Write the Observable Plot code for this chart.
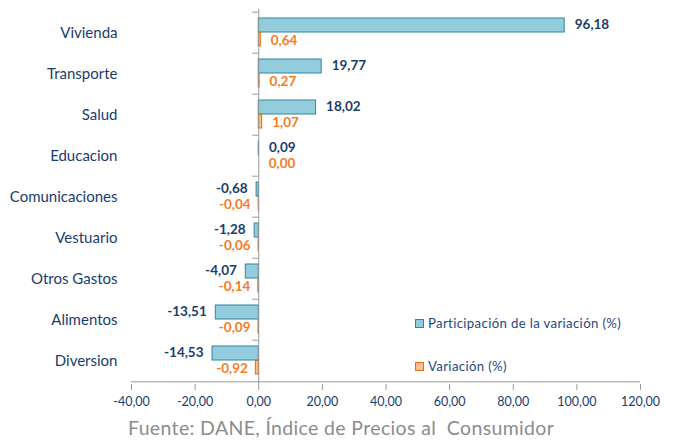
<!DOCTYPE html>
<html>
<head>
<meta charset="utf-8">
<script src="https://cdn.jsdelivr.net/npm/d3@7"></script>
<script src="https://cdn.jsdelivr.net/npm/@observablehq/plot@0.6"></script>
<style>
  body { margin: 0; background: #fff; }
  #wrap { position: relative; width: 673px; height: 440px; font-family: Lato, "Open Sans", sans-serif; }
  .leg { position: absolute; left: 415px; font-size: 13.2px; letter-spacing: 0.35px; color: #1f497d; display: flex; align-items: center; white-space: nowrap; }
  .sw { width: 9px; height: 9px; margin-right: 4px; box-sizing: border-box; }
  #cap { position: absolute; left: 0; top: 416px; width: 673px; text-align: left; padding-left: 128px; box-sizing: border-box; font-size: 19.5px; letter-spacing: 0.35px; color: #8c8c8c; line-height: 24px; white-space: pre; }
</style>
</head>
<body>
<div id="wrap"></div>
<script>
const categories = ["Vivienda", "Transporte", "Salud", "Educacion", "Comunicaciones", "Vestuario", "Otros Gastos", "Alimentos", "Diversion"];
const participacion = [96.18, 19.77, 18.02, 0.09, -0.68, -1.28, -4.07, -13.51, -14.53];
const variacion = [0.64, 0.27, 1.07, 0.00, -0.04, -0.06, -0.14, -0.09, -0.92];
const xTicks = [-40, -20, 0, 20, 40, 60, 80, 100, 120];
const seriesNames = ["Participación de la variación (%)", "Variación (%)"];
const caption = "Fuente: DANE, Índice de Precios al  Consumidor";

const fmt = d => d.toFixed(2).replace(".", ",");
const blueFill = "#93cddd", blueStroke = "#31859c";
const orFill = "#fac090", orStroke = "#e46c0a";
const navy = "#1a3d6d", orText = "#f57c1f";

const rowsP = categories.map((c, i) => ({cat: c, v: participacion[i]}));
const rowsV = categories.map((c, i) => ({cat: c, v: variacion[i]}));

const chart = Plot.plot({
  width: 673,
  height: 416,
  marginLeft: 131,
  marginRight: 33,
  marginTop: 9,
  marginBottom: 32,
  style: {fontFamily: "Lato, 'Open Sans', sans-serif", background: "#fff"},
  x: {domain: [-40, 120], ticks: xTicks},
  y: {domain: categories, padding: 0},
  marks: [
    Plot.axisX({ticks: xTicks, tickFormat: fmt, tickSize: 6, tickPadding: 7, fontSize: 12.5, color: navy, stroke: "#999", label: null}),
    Plot.axisY({tickSize: 0, tickPadding: 14, fontSize: 15, color: navy, label: null}),
    Plot.ruleY([0], {y: () => categories[categories.length - 1], x1: -40, x2: 120, dy: 20.8, stroke: "#999"}),
    Plot.ruleY(categories, {y: d => d, x1: 0, x2: 0, insetLeft: -6, dy: -20.8, stroke: "#999"}),
    Plot.barX(rowsP, {y: "cat", x1: 0, x2: "v", fill: blueFill, stroke: blueStroke, strokeWidth: 1, insetTop: 6, insetBottom: 21}),
    Plot.barX(rowsV, {y: "cat", x1: 0, x2: "v", fill: orFill, stroke: orStroke, strokeWidth: 1, insetTop: 20.5, insetBottom: 7}),
    Plot.ruleX([0], {stroke: "#999"}),
    Plot.text(rowsP, {y: "cat", x: "v", text: d => fmt(d.v), dy: -8, textAnchor: "start", filter: d => d.v >= 0, fill: navy, fontWeight: "bold", fontSize: 13.5, dx: 10}),
    Plot.text(rowsP, {y: "cat", x: "v", text: d => fmt(d.v), dy: -8, textAnchor: "end", filter: d => d.v < 0, fill: navy, fontWeight: "bold", fontSize: 13.5, dx: -9}),
    Plot.text(rowsV, {y: "cat", x: "v", text: d => fmt(d.v), dy: 7.5, textAnchor: "start", filter: d => d.v >= 0, fill: orText, fontWeight: "bold", fontSize: 13.5, dx: 10}),
    Plot.text(rowsV, {y: "cat", x: "v", text: d => fmt(d.v), dy: 7.5, textAnchor: "end", filter: d => d.v < 0, fill: orText, fontWeight: "bold", fontSize: 13.5, dx: -8})
  ]
});

const wrap = document.getElementById("wrap");
wrap.appendChild(chart);

const legItems = [
  {name: seriesNames[0], fill: blueFill, stroke: blueStroke, top: 315},
  {name: seriesNames[1], fill: orFill, stroke: orStroke, top: 358}
];
for (const it of legItems) {
  const d = document.createElement("div");
  d.className = "leg";
  d.style.top = it.top + "px";
  d.innerHTML = `<span class="sw" style="background:${it.fill};border:1px solid ${it.stroke}"></span><span>${it.name}</span>`;
  wrap.appendChild(d);
}
const cap = document.createElement("div");
cap.id = "cap";
cap.textContent = caption;
wrap.appendChild(cap);
</script>
</body>
</html>
